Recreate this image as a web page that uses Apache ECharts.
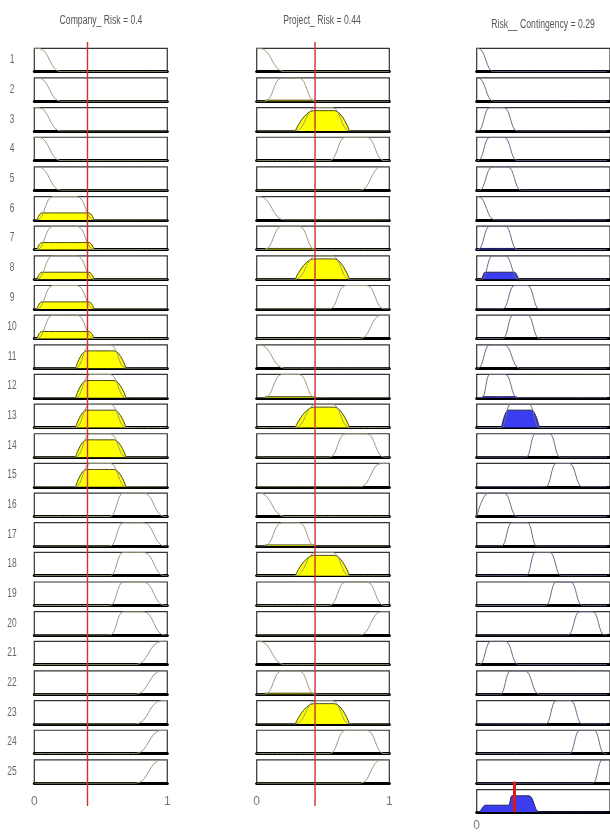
<!DOCTYPE html>
<html><head><meta charset="utf-8">
<script src="https://cdn.jsdelivr.net/npm/echarts@6/dist/echarts.min.js"></script>
<style>html,body{margin:0;padding:0;background:#fff}#c{width:610px;height:838px}</style>
</head><body><div id="c"></div>
<script>
// ---------------- data ----------------
const rowLabels = ['1','2','3','4','5','6','7','8','9','10','11','12','13','14','15','16','17','18','19','20','21','22','23','24','25'];
const titles = ['Company_ Risk = 0.4', 'Project_ Risk = 0.44', 'Risk__ Contingency = 0.29'];
const inputValues = [0.4, 0.44, 0.29];
const xTickLabels = ['0', '1'];

// membership functions as [footLeft, shoulderLeft, shoulderRight, footRight]
const companyMFs = [[0, 0, 0.03, 0.2], [0.02, 0.14, 0.32, 0.45], [0.31, 0.42, 0.57, 0.69], [0.57, 0.67, 0.82, 0.98], [0.76, 0.96, 1, 1]];
const projectMFs = [[0, 0, 0.02, 0.21], [0.06, 0.19, 0.32, 0.44], [0.29, 0.45, 0.57, 0.7], [0.55, 0.67, 0.83, 0.96], [0.78, 0.94, 1, 1]];
// which MF each rule uses (1-based)
const companyRuleMF = [1,1,1,1,1, 2,2,2,2,2, 3,3,3,3,3, 4,4,4,4,4, 5,5,5,5,5];
const projectRuleMF = [1,2,3,4,5, 1,2,3,4,5, 1,2,3,4,5, 1,2,3,4,5, 1,2,3,4,5];
// firing degree of each input MF at the input value
const companyLevels = [0, 0.3, 0.74, 0, 0];
const projectLevels = [0, 0.05, 0.87, 0, 0];

const outputMFs = [
  [0, 0, 0.01, 0.13], [0, 0, 0.01, 0.13], [0.01, 0.1, 0.21, 0.31], [0.01, 0.1, 0.21, 0.31], [0.02, 0.12, 0.24, 0.34],
  [0, 0, 0.01, 0.14], [0.01, 0.1, 0.22, 0.31], [0.04, 0.12, 0.22, 0.32], [0.2, 0.29, 0.39, 0.48], [0.2, 0.28, 0.39, 0.48],
  [0.01, 0.1, 0.21, 0.33], [0.04, 0.1, 0.22, 0.31], [0.19, 0.26, 0.4, 0.48], [0.38, 0.45, 0.56, 0.64], [0.53, 0.61, 0.71, 0.81],
  [0, 0.09, 0.21, 0.31], [0.19, 0.27, 0.39, 0.46], [0.38, 0.45, 0.56, 0.65], [0.53, 0.61, 0.72, 0.81], [0.7, 0.79, 0.89, 0.98],
  [0.02, 0.11, 0.22, 0.32], [0.18, 0.26, 0.37, 0.48], [0.53, 0.61, 0.72, 0.81], [0.71, 0.79, 0.9, 0.98], [0.89, 0.965, 1, 1]
];
const outputLevels = [0,0,0,0,0, 0,0.05,0.3,0,0, 0,0.05,0.74,0,0, 0,0,0,0,0, 0,0,0,0,0];

const aggregateX = [0, 0.01, 0.07, 0.245, 0.27, 0.40, 0.48, 1];
const aggregateY = [0, 0, 0.3, 0.3, 0.72, 0.72, 0, 0];

// ---------------- layout / drawing ----------------
const colLeft = [34.3, 256.7, 476.7];
const colWidth = [133, 132.6, 136];
const colXMax = [1, 1, 136 / 133];   // third column runs past the right edge of the picture
const rowTop0 = 48.3, rowStep = 29.65, boxH = 23.4;
const font = '12px "Liberation Sans", Arial, sans-serif';

function dedupe(pts) {
  const out = [];
  pts.forEach(p => { const l = out[out.length - 1]; if (!l || l[0] !== p[0] || l[1] !== p[1]) out.push(p); });
  return out;
}
function mfPoints(p) {
  const [a, b, c, d] = p;
  if (a === b) return dedupe([[0, 1], [c, 1], [d, 0], [1, 0]]);
  if (c === d) return dedupe([[0, 0], [a, 0], [b, 1], [1, 1]]);
  return dedupe([[0, 0], [a, 0], [b, 1], [c, 1], [d, 0], [1, 0]]);
}
function clipPoints(p, L) {
  const [a, b, c, d] = p;
  const xl = a + L * (b - a), xr = d - L * (d - c);
  if (a === b) return dedupe([[0, 0], [0, L], [xr, L], [d, 0]]);
  if (c === d) return dedupe([[a, 0], [xl, L], [1, L], [1, 0]]);
  return dedupe([[a, 0], [xl, L], [xr, L], [d, 0]]);
}

const grids = [], xAxes = [], yAxes = [], series = [], graphics = [];

function addGrid(left, top, width, height, xMax, show, xLabel, xLabelMargin, onlyFirstLabel) {
  const gi = grids.length;
  grids.push({ left, top, width, height, show, borderColor: '#333', borderWidth: show ? 1.2 : 0, backgroundColor: show ? '#fff' : 'transparent' });
  xAxes.push({
    gridIndex: gi, type: 'value', min: 0, max: xMax, interval: 1,
    axisLine: { show: show, onZero: false, lineStyle: { color: '#000', width: 3 } },
    axisTick: { show: false }, splitLine: { show: false },
    axisLabel: xLabel ? { show: true, margin: xLabelMargin, color: '#777', fontSize: 12, fontFamily: 'Liberation Sans, Arial, sans-serif',
      showMaxLabel: !onlyFirstLabel,
      formatter: v => (onlyFirstLabel && Math.round(v) > 0) ? '' : xTickLabels[Math.round(v)] } : { show: false }
  });
  yAxes.push({ gridIndex: gi, type: 'value', min: 0, max: 1, show: false });
  return gi;
}

function addCell(col, row, mf, level, lineColor, fillColor, edgeColor, labels) {
  const top = rowTop0 + row * rowStep;
  const gi = addGrid(colLeft[col], top, colWidth[col], boxH, colXMax[col], true, labels, 12, false);
  if (level > 0) {
    series.push({ type: 'line', xAxisIndex: gi, yAxisIndex: gi, data: clipPoints(mf, level), smooth: 0.5, smoothMonotone: 'x',
      symbol: 'none', silent: true, z: 2, lineStyle: { color: edgeColor, width: 1 }, areaStyle: { color: fillColor, opacity: 1 } });
  }
  series.push({ type: 'line', xAxisIndex: gi, yAxisIndex: gi, data: mfPoints(mf), smooth: 0.5, smoothMonotone: 'x',
    symbol: 'none', silent: true, z: 3, lineStyle: { color: lineColor, width: 1 } });
}

for (let r = 0; r < 25; r++) {
  const cm = companyRuleMF[r] - 1, pm = projectRuleMF[r] - 1;
  addCell(0, r, companyMFs[cm], companyLevels[cm], '#9c9c80', '#ffff00', '#4a4a10', r === 24);
  addCell(1, r, projectMFs[pm], projectLevels[pm], '#9c9c80', '#ffff00', '#4a4a10', r === 24);
  addCell(2, r, outputMFs[r], outputLevels[r], '#6c6c8c', '#3c3cf0', '#20205a', false);
  graphics.push({ type: 'text', x: 12, y: rowTop0 + r * rowStep + boxH / 2, scaleX: 0.7,
    style: { text: rowLabels[r], textAlign: 'center', textVerticalAlign: 'middle', fill: '#666', font } });
}

// aggregated output
{
  const gi = addGrid(colLeft[2], rowTop0 + 25 * rowStep, colWidth[2], boxH - 1, colXMax[2], true, true, 8, true);
  series.push({ type: 'line', xAxisIndex: gi, yAxisIndex: gi, data: aggregateX.map((x, i) => [x, aggregateY[i]]),
    smooth: 0.5, smoothMonotone: 'x', symbol: 'none', silent: true, z: 2,
    lineStyle: { color: '#20205a', width: 1 }, areaStyle: { color: '#3c3cf0', opacity: 1 } });
  const go = addGrid(colLeft[2], rowTop0 + 25 * rowStep - 8, colWidth[2], boxH + 7, colXMax[2], false, false, 0, false);
  series.push({ type: 'line', xAxisIndex: go, yAxisIndex: go, data: [[inputValues[2], 0], [inputValues[2], 1]],
    symbol: 'none', silent: true, z: 6, lineStyle: { color: '#e01818', width: 3 } });
}

// red input lines across columns 1 and 2
for (let c = 0; c < 2; c++) {
  const go = addGrid(colLeft[c], 42, colWidth[c], 764, colXMax[c], false, false, 0, false);
  series.push({ type: 'line', xAxisIndex: go, yAxisIndex: go, data: [[inputValues[c], 0], [inputValues[c], 1]],
    symbol: 'none', silent: true, z: 6, lineStyle: { color: '#d03030', width: 1.4 } });
}

// titles
const titlePos = [[101, 21], [322, 21], [543, 25]];
titles.forEach((t, i) => graphics.push({ type: 'text', x: titlePos[i][0], y: titlePos[i][1], scaleX: 0.72,
  style: { text: t, textAlign: 'center', textVerticalAlign: 'middle', fill: '#555', font } }));

const chart = echarts.init(document.getElementById('c'), null, { renderer: 'canvas' });
chart.setOption({ animation: false, backgroundColor: '#fff', grid: grids, xAxis: xAxes, yAxis: yAxes, series, graphic: graphics });
</script></body></html>
